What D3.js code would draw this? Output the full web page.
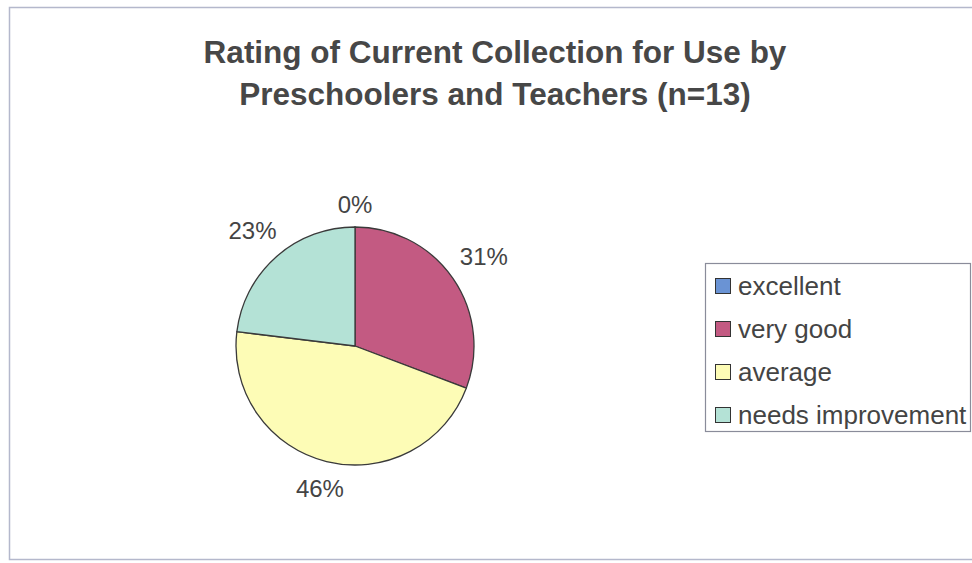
<!DOCTYPE html>
<html><head><meta charset="utf-8">
<script src="https://cdn.jsdelivr.net/npm/d3@7"></script>
<style>body{margin:0;background:#fff}</style>
</head><body>
<svg id="c" width="972" height="563"></svg>
<script>
const categories = ["excellent", "very good", "average", "needs improvement"];
const counts = [0, 4, 6, 3];
const labels = ["0%", "31%", "46%", "23%"];
const colors = ["#6a93d4", "#c35a82", "#fdfcb6", "#b4e2d6"];
const titleLines = ["Rating of Current Collection for Use by", "Preschoolers and Teachers (n=13)"];

const svg = d3.select("#c");
const font = "'Liberation Sans', Arial, sans-serif";
svg.append("rect").attr("x", 9.5).attr("y", 7.5).attr("width", 1000).attr("height", 552)
  .attr("fill", "#fff").attr("stroke", "#b4b8cc").attr("stroke-width", 1.5);

svg.append("g").selectAll("text").data(titleLines).join("text")
  .attr("x", 495).attr("y", (d, i) => 63 + i * 42)
  .attr("text-anchor", "middle").attr("font-family", font).attr("font-weight", "bold")
  .attr("font-size", 31.5).attr("fill", "#474747").text(d => d);

const cx = 355, cy = 346, r = 119;
const pie = d3.pie().sort(null).value(d => d)(counts);
const arc = d3.arc().innerRadius(0).outerRadius(r);
const g = svg.append("g").attr("transform", `translate(${cx},${cy})`);
g.selectAll("path").data(pie).join("path")
  .attr("d", arc).attr("fill", (d, i) => colors[i])
  .attr("stroke", "#3a3a3a").attr("stroke-width", 1.3).attr("stroke-linejoin", "round");

const gap = 12;
const lbl = g.selectAll("text").data(pie).join("text")
  .attr("text-anchor", "middle").attr("dy", "0.35em")
  .attr("font-family", font).attr("font-size", 24).attr("fill", "#444")
  .text((d, i) => labels[i]);
lbl.each(function(d) {
  const bb = this.getBBox();
  const a = (d.startAngle + d.endAngle) / 2;
  const s = Math.sin(a), c = Math.cos(a);
  const ext = Math.abs(s) * bb.width / 2 + Math.abs(c) * bb.height / 2 * 0.75;
  const dist = r + gap + ext;
  d3.select(this).attr("transform", `translate(${s * dist},${-c * dist})`);
});

const lg = svg.append("g").attr("transform", "translate(705,263)");
lg.append("rect").attr("x", 0.5).attr("y", 0.5).attr("width", 265).attr("height", 168)
  .attr("fill", "#fff").attr("stroke", "#8a8c9a").attr("stroke-width", 1.2);
const y = d3.scalePoint().domain(categories).range([23, 152]);
const items = lg.selectAll("g.it").data(categories).join("g").attr("class", "it")
  .attr("transform", d => `translate(0,${y(d)})`);
items.append("rect").attr("x", 10.5).attr("y", -7.5).attr("width", 15).attr("height", 15)
  .attr("fill", (d, i) => colors[i]).attr("stroke", "#333").attr("stroke-width", 1);
items.append("text").attr("x", 33).attr("dy", "0.35em")
  .attr("font-family", font).attr("font-size", 26).attr("fill", "#444").text(d => d);
</script>
</body></html>
